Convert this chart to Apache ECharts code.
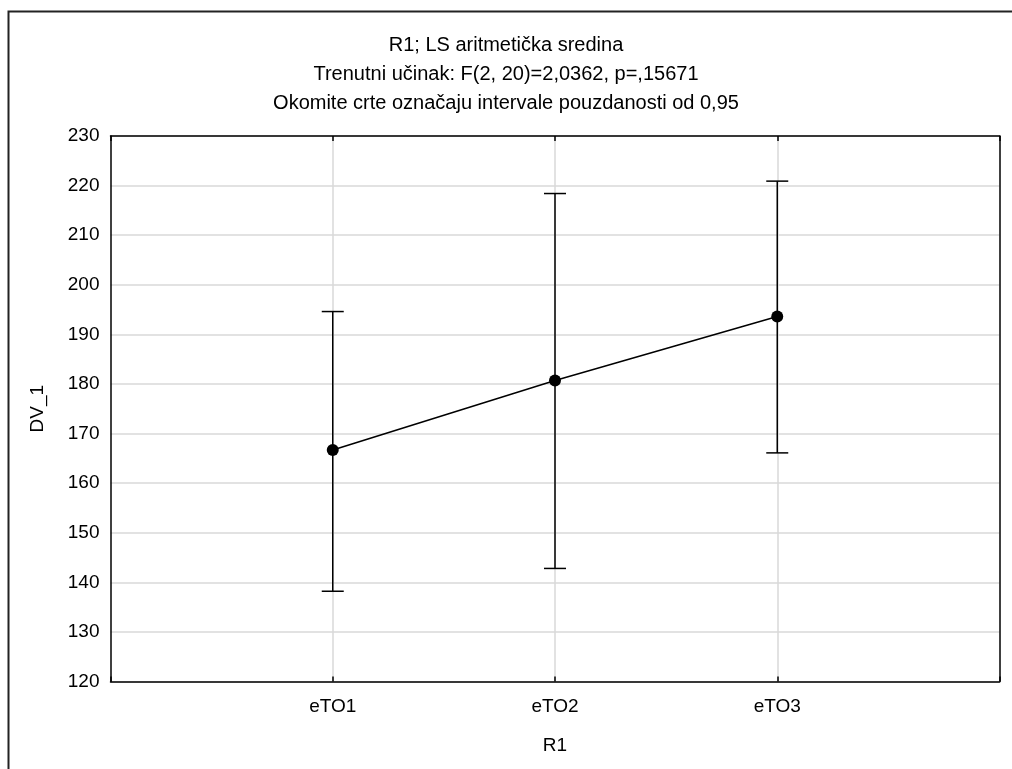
<!DOCTYPE html>
<html>
<head>
<meta charset="utf-8">
<script src="https://cdn.jsdelivr.net/npm/echarts@6/dist/echarts.min.js"></script>
<style>
html,body{margin:0;padding:0;background:#fff;}
#chart{width:1012px;height:769px;}
</style>
</head>
<body>
<div id="chart"></div>
<script>
// ---- data ----
var titleLines = [
  'R1; LS aritmetička sredina',
  'Trenutni učinak: F(2, 20)=2,0362, p=,15671',
  'Okomite crte označaju intervale pouzdanosti od 0,95'
];
var categories = ['eTO1', 'eTO2', 'eTO3'];
var means = [166.7, 180.7, 193.6];
var lower = [138.2, 142.8, 166.1];
var upper = [194.6, 218.4, 220.9];
var yMin = 120, yMax = 230, yStep = 10;
var xName = 'R1';
var yName = 'DV_1';

// ---- chart ----
var FONT = '"Liberation Sans", Arial, sans-serif';
var axisCats = [''].concat(categories).concat(['']);
var lastIdx = axisCats.length - 1;
var chart = echarts.init(document.getElementById('chart'));

var titles = titleLines.map(function (t, i) {
  return {
    text: t,
    left: 'center',
    top: 30 + i * 29,
    textStyle: {fontFamily: FONT, fontSize: 20, fontWeight: 'normal', color: '#000'}
  };
});

var option = {
  backgroundColor: '#fff',
  animation: false,
  title: titles,
  grid: {
    left: 110.5, right: 12.5, top: 136, bottom: 87.5,
    show: false
  },
  xAxis: [{
    type: 'category',
    data: axisCats,
    boundaryGap: false,
    position: 'bottom',
    name: xName,
    nameLocation: 'middle',
    nameGap: 55,
    nameTextStyle: {fontFamily: FONT, fontSize: 19, color: '#000'},
    axisLine: {show: true, lineStyle: {color: '#000', width: 1.5}},
    axisTick: {show: true, inside: true, length: 5, interval: 0, lineStyle: {color: '#000', width: 1.5}},
    axisLabel: {interval: 0, margin: 16, fontFamily: FONT, fontSize: 19, color: '#000'},
    splitLine: {
      show: true,
      interval: function (index) { return index > 0 && index < lastIdx; },
      lineStyle: {color: '#d9d9d9', width: 1.5}
    }
  }, {
    type: 'category',
    data: axisCats,
    boundaryGap: false,
    position: 'top',
    axisLine: {show: true, lineStyle: {color: '#000', width: 1.5}},
    axisTick: {show: true, inside: true, length: 5, interval: 0, lineStyle: {color: '#000', width: 1.5}},
    axisLabel: {show: false},
    splitLine: {show: false}
  }],
  yAxis: [{
    type: 'value',
    min: yMin, max: yMax, interval: yStep,
    position: 'left',
    name: yName,
    nameLocation: 'middle',
    nameGap: 63,
    nameRotate: 90,
    nameTextStyle: {fontFamily: FONT, fontSize: 19, color: '#000'},
    axisLine: {show: true, lineStyle: {color: '#000', width: 1.5}},
    axisTick: {show: false},
    axisLabel: {margin: 11, fontFamily: FONT, fontSize: 19, color: '#000'},
    splitLine: {show: true, lineStyle: {color: '#d9d9d9', width: 1.5}}
  }, {
    type: 'value',
    min: yMin, max: yMax, interval: yStep,
    position: 'right',
    axisLine: {show: true, lineStyle: {color: '#000', width: 1.5}},
    axisTick: {show: false},
    axisLabel: {show: false},
    splitLine: {show: false}
  }],
  series: [{
    type: 'custom',
    xAxisIndex: 0,
    yAxisIndex: 0,
    renderItem: function (params, api) {
      var x = api.value(0);
      var lo = api.coord([x, api.value(1)]);
      var hi = api.coord([x, api.value(2)]);
      var hw = 11;
      var st = {stroke: '#000', lineWidth: 1.5};
      return {
        type: 'group',
        children: [
          {type: 'line', shape: {x1: lo[0], y1: lo[1], x2: hi[0], y2: hi[1]}, style: st},
          {type: 'line', shape: {x1: lo[0] - hw, y1: lo[1], x2: lo[0] + hw, y2: lo[1]}, style: st},
          {type: 'line', shape: {x1: hi[0] - hw, y1: hi[1], x2: hi[0] + hw, y2: hi[1]}, style: st}
        ]
      };
    },
    encode: {x: 0, y: [1, 2]},
    data: categories.map(function (c, i) { return [c, lower[i], upper[i]]; }),
    z: 4
  }, {
    type: 'line',
    xAxisIndex: 0,
    yAxisIndex: 0,
    data: categories.map(function (c, i) { return [c, means[i]]; }),
    symbol: 'circle',
    symbolSize: 12,
    itemStyle: {color: '#000'},
    lineStyle: {color: '#000', width: 1.5},
    z: 5
  }],
  graphic: [{
    type: 'rect',
    shape: {x: 8.5, y: 11.5, width: 1100, height: 1000},
    style: {fill: 'none', stroke: '#222', lineWidth: 2},
    silent: true,
    z: 10
  }]
};
chart.setOption(option);
</script>
</body>
</html>
